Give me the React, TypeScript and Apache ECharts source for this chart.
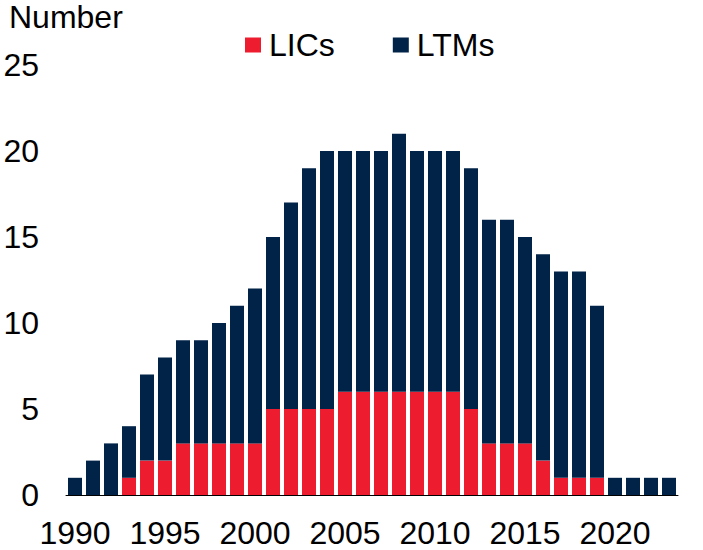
import React, { useEffect, useRef } from "react";
import * as echarts from "echarts";

const years = [
  "1990", "1991", "1992", "1993", "1994", "1995", "1996", "1997", "1998", "1999",
  "2000", "2001", "2002", "2003", "2004", "2005", "2006", "2007", "2008", "2009",
  "2010", "2011", "2012", "2013", "2014", "2015", "2016", "2017", "2018", "2019",
  "2020", "2021", "2022", "2023",
];
const lics = [
  0, 0, 0, 1, 2, 2, 3, 3, 3, 3,
  3, 5, 5, 5, 5, 6, 6, 6, 6, 6,
  6, 6, 5, 3, 3, 3, 2, 1, 1, 1,
  0, 0, 0, 0,
];
const ltms = [
  1, 2, 3, 3, 5, 6, 6, 6, 7, 8,
  9, 10, 12, 14, 15, 14, 14, 14, 15, 14,
  14, 14, 14, 13, 13, 12, 12, 12, 12, 10,
  1, 1, 1, 1,
];
const yTicks = [0, 5, 10, 15, 20, 25];

const RED = "#ED1C2E";
const NAVY = "#002347";
const FONT = "Liberation Sans, Arial, sans-serif";
const FS = 32;

export default function App() {
  const ref = useRef<HTMLDivElement>(null);
  useEffect(() => {
    if (!ref.current) return;
    const chart = echarts.init(ref.current, null, { renderer: "svg" });
    chart.setOption({
      animation: false,
      backgroundColor: "#fff",
      textStyle: { fontFamily: FONT },
      title: {
        text: "Number",
        left: 9,
        top: 0,
        padding: 0,
        textStyle: { fontFamily: FONT, fontSize: FS, fontWeight: "normal", color: "#000", lineHeight: 34 },
      },
      legend: {
        data: ["LICs", "LTMs"],
        left: 240,
        top: 24,
        itemWidth: 16,
        itemHeight: 15,
        itemGap: 58,
        icon: "rect",
        textStyle: { fontFamily: FONT, fontSize: FS, color: "#000", padding: [0, 0, 0, 3] },
      },
      grid: { left: 66, right: 25, top: 65, bottom: 55, containLabel: false },
      xAxis: {
        type: "category",
        data: years,
        boundaryGap: true,
        axisLine: { show: true, lineStyle: { color: "#000", width: 1 } },
        axisTick: { show: false },
        axisLabel: {
          interval: (idx: number, val: string) => Number(val) % 5 === 0,
          color: "#000",
          fontSize: FS,
          fontFamily: FONT,
          margin: 22,
        },
      },
      yAxis: {
        type: "value",
        min: yTicks[0],
        max: yTicks[yTicks.length - 1],
        interval: 5,
        axisLine: { show: false },
        axisTick: { show: false },
        splitLine: { show: false },
        axisLabel: { color: "#000", fontSize: FS, fontFamily: FONT, margin: 27 },
      },
      series: [
        {
          name: "LICs",
          type: "bar",
          stack: "total",
          data: lics,
          barWidth: 14,
          itemStyle: { color: RED },
        },
        {
          name: "LTMs",
          type: "bar",
          stack: "total",
          data: ltms,
          barWidth: 14,
          itemStyle: { color: NAVY },
        },
      ],
    });
    return () => chart.dispose();
  }, []);
  return <div ref={ref} style={{ width: 703, height: 550, position: "absolute", left: 0, top: 0 }} />;
}
